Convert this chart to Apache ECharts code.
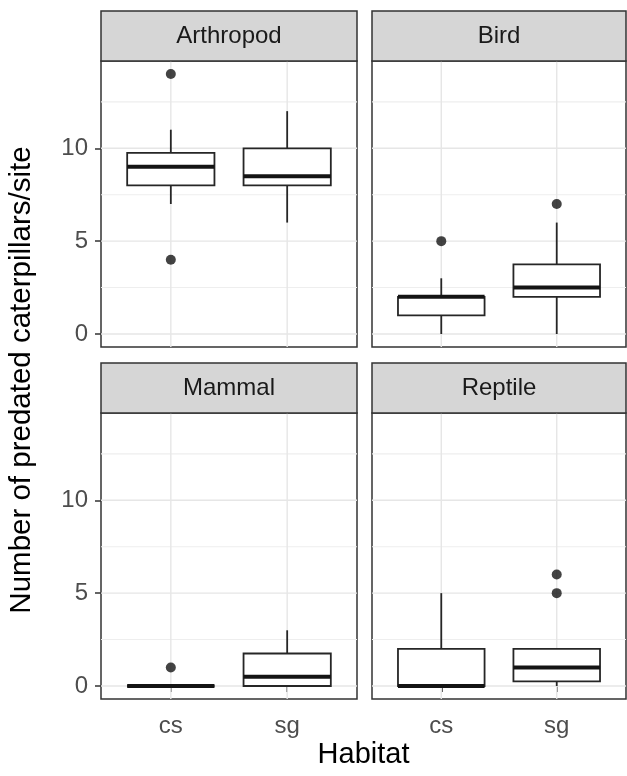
<!DOCTYPE html>
<html>
<head>
<meta charset="utf-8">
<script src="https://cdn.jsdelivr.net/npm/echarts@6/dist/echarts.min.js"></script>
<style>
html,body{margin:0;padding:0;background:#fff;}
#chart{width:627px;height:776px;}
</style>
</head>
<body>
<div id="chart"></div>
<script>
// ---- data ----
const facets = ['Arthropod', 'Bird', 'Mammal', 'Reptile'];
const habitats = ['cs', 'sg'];
const yTicks = [0, 5, 10];
const yMinorTicks = [2.5, 7.5, 12.5];
const xTicks = [1, 2];
// [min, Q1, median, Q3, max] for cs, sg
const arthropodBox = [[7, 8, 9, 9.75, 11], [6, 8, 8.5, 10, 12]];
const birdBox = [[0, 1, 2, 2, 3], [0, 2, 2.5, 3.75, 6]];
const mammalBox = [[0, 0, 0, 0, 0], [0, 0, 0.5, 1.75, 3]];
const reptileBox = [[0, 0, 0, 2, 5], [0, 0.25, 1, 2, 2]];
// outliers: [habitat index (1=cs, 2=sg), value]
const arthropodOut = [[1, 14], [1, 4]];
const birdOut = [[1, 5], [2, 7]];
const mammalOut = [[1, 1]];
const reptileOut = [[2, 6], [2, 5]];

const boxes = [arthropodBox, birdBox, mammalBox, reptileBox];
const outs = [arthropodOut, birdOut, mammalOut, reptileOut];

// ---- layout ----
const panels = [
  {left: 101, top: 61, width: 256, height: 286},
  {left: 372, top: 61, width: 254, height: 286},
  {left: 101, top: 413, width: 256, height: 286},
  {left: 372, top: 413, width: 254, height: 286}
];
const stripH = 50;
const FONT = 'Liberation Sans, Arial, Helvetica, sans-serif';
const X_MIN = 0.4, X_MAX = 2.6, Y_MIN = -0.7, Y_MAX = 14.7;

const grids = [], xAxes = [], yAxes = [], series = [], graphics = [];

panels.forEach((p, i) => {
  const isLeft = (i % 2 === 0), isBottom = (i >= 2);
  grids.push({left: p.left, top: p.top, width: p.width, height: p.height,
    show: true, backgroundColor: '#fff', borderColor: '#333', borderWidth: 1.5, containLabel: false});
  xAxes.push({type: 'value', gridIndex: i, min: X_MIN, max: X_MAX,
    axisLine: {show: false}, splitLine: {show: false},
    axisTick: {show: isBottom, customValues: xTicks, length: 6, lineStyle: {color: '#333', width: 1.5}},
    axisLabel: {show: isBottom, customValues: xTicks, margin: 15, fontSize: 24, color: '#4D4D4D', fontFamily: FONT,
      formatter: v => habitats[Math.round(v) - 1] || ''}
  });
  yAxes.push({type: 'value', gridIndex: i, min: Y_MIN, max: Y_MAX,
    axisLine: {show: false}, splitLine: {show: false},
    axisTick: {show: isLeft, customValues: yTicks, length: 6, lineStyle: {color: '#333', width: 1.5}},
    axisLabel: {show: isLeft, customValues: yTicks, margin: 13, fontSize: 24, color: '#4D4D4D', fontFamily: FONT}
  });
  // gridlines
  const gl = [];
  yMinorTicks.forEach(v => gl.push(['h', v, 0]));
  yTicks.forEach(v => gl.push(['h', v, 1]));
  xTicks.forEach(v => gl.push(['v', v, 1]));
  series.push({type: 'custom', xAxisIndex: i, yAxisIndex: i, z: 1, silent: true,
    data: gl.map((g, k) => [k, g[1], g[2]]),
    renderItem: (params, api) => {
      const g = gl[params.dataIndex];
      let a, b;
      if (g[0] === 'h') { a = api.coord([X_MIN, g[1]]); b = api.coord([X_MAX, g[1]]); }
      else { a = api.coord([g[1], Y_MIN]); b = api.coord([g[1], Y_MAX]); }
      return {type: 'line', shape: {x1: a[0], y1: a[1], x2: b[0], y2: b[1]},
        style: {stroke: g[2] ? '#E6E6E6' : '#EEEEEE', lineWidth: g[2] ? 1.4 : 1.1}};
    }
  });
  // boxes
  series.push({type: 'custom', xAxisIndex: i, yAxisIndex: i, z: 2,
    data: boxes[i].map((b, k) => [k + 1].concat(b)),
    encode: {x: 0, y: [1, 2, 3, 4, 5]},
    renderItem: (params, api) => {
      const x = api.value(0);
      const mn = api.value(1), q1 = api.value(2), md = api.value(3), q3 = api.value(4), mx = api.value(5);
      const hw = 0.375;
      const pMin = api.coord([x, mn]), pMax = api.coord([x, mx]);
      const pQ1l = api.coord([x - hw, q1]), pQ3r = api.coord([x + hw, q3]);
      const pMl = api.coord([x - hw, md]), pMr = api.coord([x + hw, md]);
      const pQ1 = api.coord([x, q1]), pQ3 = api.coord([x, q3]);
      const stroke = '#262626';
      return {type: 'group', children: [
        {type: 'line', shape: {x1: pQ3[0], y1: pQ3[1], x2: pMax[0], y2: pMax[1]}, style: {stroke, lineWidth: 1.8}},
        {type: 'line', shape: {x1: pQ1[0], y1: pQ1[1], x2: pMin[0], y2: pMin[1]}, style: {stroke, lineWidth: 1.8}},
        {type: 'rect', shape: {x: pQ1l[0], y: pQ3r[1], width: pQ3r[0] - pQ1l[0], height: pQ1l[1] - pQ3r[1]},
          style: {fill: '#fff', stroke, lineWidth: 1.8}},
        {type: 'line', shape: {x1: pMl[0], y1: pMl[1], x2: pMr[0], y2: pMr[1]}, style: {stroke: '#141414', lineWidth: 4}}
      ]};
    }
  });
  // outliers
  series.push({type: 'scatter', xAxisIndex: i, yAxisIndex: i, z: 3, data: outs[i],
    symbol: 'circle', symbolSize: 10, itemStyle: {color: '#141414'}, silent: true});
  // strip
  graphics.push({type: 'rect', shape: {x: p.left, y: p.top - stripH, width: p.width, height: stripH},
    style: {fill: '#D6D6D6', stroke: '#333', lineWidth: 1.5}, z: 10});
  graphics.push({type: 'text', x: p.left + p.width / 2, y: p.top - stripH / 2, z: 11,
    style: {text: facets[i], fontSize: 24, fontFamily: FONT, fill: '#1A1A1A', align: 'center', verticalAlign: 'middle'}});
});

graphics.push({type: 'text', x: (panels[0].left + panels[1].left + panels[1].width) / 2, y: 755,
  style: {text: 'Habitat', fontSize: 29, fontFamily: FONT, fill: '#000', align: 'center', verticalAlign: 'middle'}});
graphics.push({type: 'text', x: 22, y: (panels[0].top + panels[2].top + panels[2].height) / 2, rotation: Math.PI / 2,
  style: {text: 'Number of predated caterpillars/site', fontSize: 29.5, fontFamily: FONT, fill: '#000', align: 'center', verticalAlign: 'middle'}});

const chart = echarts.init(document.getElementById('chart'), null, {renderer: 'canvas'});
chart.setOption({
  animation: false,
  backgroundColor: '#fff',
  grid: grids, xAxis: xAxes, yAxis: yAxes, series: series, graphic: graphics
});
</script>
</body>
</html>
